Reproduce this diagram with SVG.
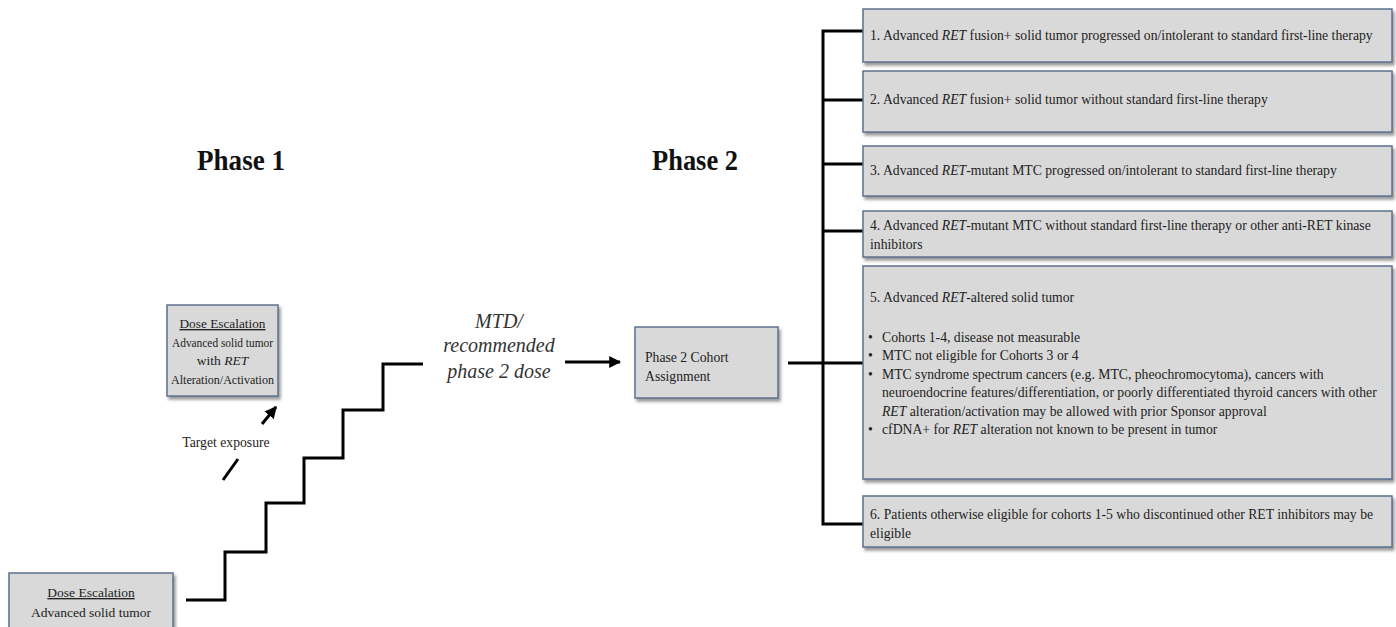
<svg xmlns="http://www.w3.org/2000/svg" width="1396" height="627" viewBox="0 0 1396 627">
<defs>
<filter id="sh" x="-5%" y="-10%" width="115%" height="130%">
<feDropShadow dx="2" dy="3" stdDeviation="1.5" flood-color="#555" flood-opacity="0.6"/>
</filter>
<marker id="ah" viewBox="0 0 10 10" refX="9" refY="5" markerWidth="4" markerHeight="4" orient="auto" markerUnits="strokeWidth">
<path d="M0,0 L10,5 L0,10 z" fill="#000"/>
</marker>
</defs>
<style>
.box{fill:#d9d9d9;stroke:#5e7090;stroke-width:1.5;filter:url(#sh)}
.t{font-family:"Liberation Serif",serif;font-size:13.7px;fill:#222}
.tc{font-family:"Liberation Serif",serif;font-size:13.5px;fill:#222;text-anchor:middle}
.ph{font-family:"Liberation Serif",serif;font-size:30px;font-weight:bold;fill:#111}
.mtd{font-family:"Liberation Serif",serif;font-size:20px;font-style:italic;fill:#333;text-anchor:middle}
.ln{fill:none;stroke:#000;stroke-width:3}
</style>
<rect width="1396" height="627" fill="#fff"/>

<text class="ph" x="197" y="170" textLength="88" lengthAdjust="spacingAndGlyphs">Phase 1</text>
<text class="ph" x="652" y="170" textLength="86" lengthAdjust="spacingAndGlyphs">Phase 2</text>

<g id="connectors">
<polyline class="ln" points="186,600 225,600 225,552 266,552 266,503 304,503 304,458 343,458 343,410 383,410 383,364 423,364"/>
<line class="ln" x1="262" y1="424" x2="276" y2="407" marker-end="url(#ah)"/>
<line class="ln" x1="223" y1="480" x2="238" y2="459"/>
<line class="ln" x1="565" y1="362" x2="620" y2="362" marker-end="url(#ah)"/>
<line class="ln" x1="788" y1="363" x2="863" y2="363"/>
<polyline class="ln" points="863,31 823,31 823,524 863,524"/>
<line class="ln" x1="823" y1="100" x2="863" y2="100"/>
<line class="ln" x1="823" y1="164" x2="863" y2="164"/>
<line class="ln" x1="823" y1="231" x2="863" y2="231"/>
</g>

<g id="mtd-label">
<text class="mtd" x="499" y="328">MTD/</text>
<text class="mtd" x="499" y="352">recommended</text>
<text class="mtd" x="499" y="378">phase 2 dose</text>
</g>

<g id="target-label">
<text class="t" x="226" y="447" text-anchor="middle" font-size="12.5">Target exposure</text>
</g>

<g id="dose-escalation-1">
<rect class="box" x="9" y="573" width="164" height="60"/>
<text class="tc" x="91" y="597" text-decoration="underline">Dose Escalation</text>
<text class="tc" x="91" y="617">Advanced solid tumor</text>
</g>

<g id="dose-escalation-2">
<rect class="box" x="167" y="305" width="111" height="91"/>
<text class="tc" x="222.5" y="328" font-size="13" text-decoration="underline" textLength="86" lengthAdjust="spacingAndGlyphs">Dose Escalation</text>
<text class="tc" x="222.5" y="347" font-size="13" textLength="101" lengthAdjust="spacingAndGlyphs">Advanced solid tumor</text>
<text class="tc" x="222.5" y="365" font-size="13">with <tspan font-style="italic">RET</tspan></text>
<text class="tc" x="222.5" y="384" font-size="13" textLength="103" lengthAdjust="spacingAndGlyphs">Alteration/Activation</text>
</g>

<g id="cohort-assignment">
<rect class="box" x="635" y="327" width="143" height="71"/>
<text class="t" x="645" y="362" font-size="14">Phase 2 Cohort</text>
<text class="t" x="645" y="381" font-size="14">Assignment</text>
</g>

<g id="cohort-1">
<rect class="box" x="863" y="9" width="529" height="53"/>
<text class="t" x="870" y="40">1. Advanced <tspan font-style="italic">RET</tspan> fusion+ solid tumor progressed on/intolerant to standard first-line therapy</text>
</g>

<g id="cohort-2">
<rect class="box" x="863" y="71" width="529" height="61"/>
<text class="t" x="870" y="104">2. Advanced <tspan font-style="italic">RET</tspan> fusion+ solid tumor without standard first-line therapy</text>
</g>

<g id="cohort-3">
<rect class="box" x="863" y="146" width="529" height="50"/>
<text class="t" x="870" y="175">3. Advanced <tspan font-style="italic">RET</tspan>-mutant MTC progressed on/intolerant to standard first-line therapy</text>
</g>

<g id="cohort-4">
<rect class="box" x="863" y="211" width="529" height="46"/>
<text class="t" x="870" y="230">4. Advanced <tspan font-style="italic">RET</tspan>-mutant MTC without standard first-line therapy or other anti-RET kinase</text>
<text class="t" x="870" y="249">inhibitors</text>
</g>

<g id="cohort-5">
<rect class="box" x="863" y="266" width="529" height="213"/>
<text class="t" x="870" y="302">5. Advanced <tspan font-style="italic">RET</tspan>-altered solid tumor</text>
<text class="t" x="868" y="342">•</text><text class="t" x="882" y="342">Cohorts 1-4, disease not measurable</text>
<text class="t" x="868" y="360">•</text><text class="t" x="882" y="360">MTC not eligible for Cohorts 3 or 4</text>
<text class="t" x="868" y="379">•</text><text class="t" x="882" y="379">MTC syndrome spectrum cancers (e.g. MTC, pheochromocytoma), cancers with</text>
<text class="t" x="882" y="397">neuroendocrine features/differentiation, or poorly differentiated thyroid cancers with other</text>
<text class="t" x="882" y="416"><tspan font-style="italic">RET</tspan> alteration/activation may be allowed with prior Sponsor approval</text>
<text class="t" x="868" y="434">•</text><text class="t" x="882" y="434">cfDNA+ for <tspan font-style="italic">RET</tspan> alteration not known to be present in tumor</text>
</g>

<g id="cohort-6">
<rect class="box" x="863" y="496" width="529" height="51"/>
<text class="t" x="870" y="519">6. Patients otherwise eligible for cohorts 1-5 who discontinued other RET inhibitors may be</text>
<text class="t" x="870" y="538">eligible</text>
</g>
</svg>
